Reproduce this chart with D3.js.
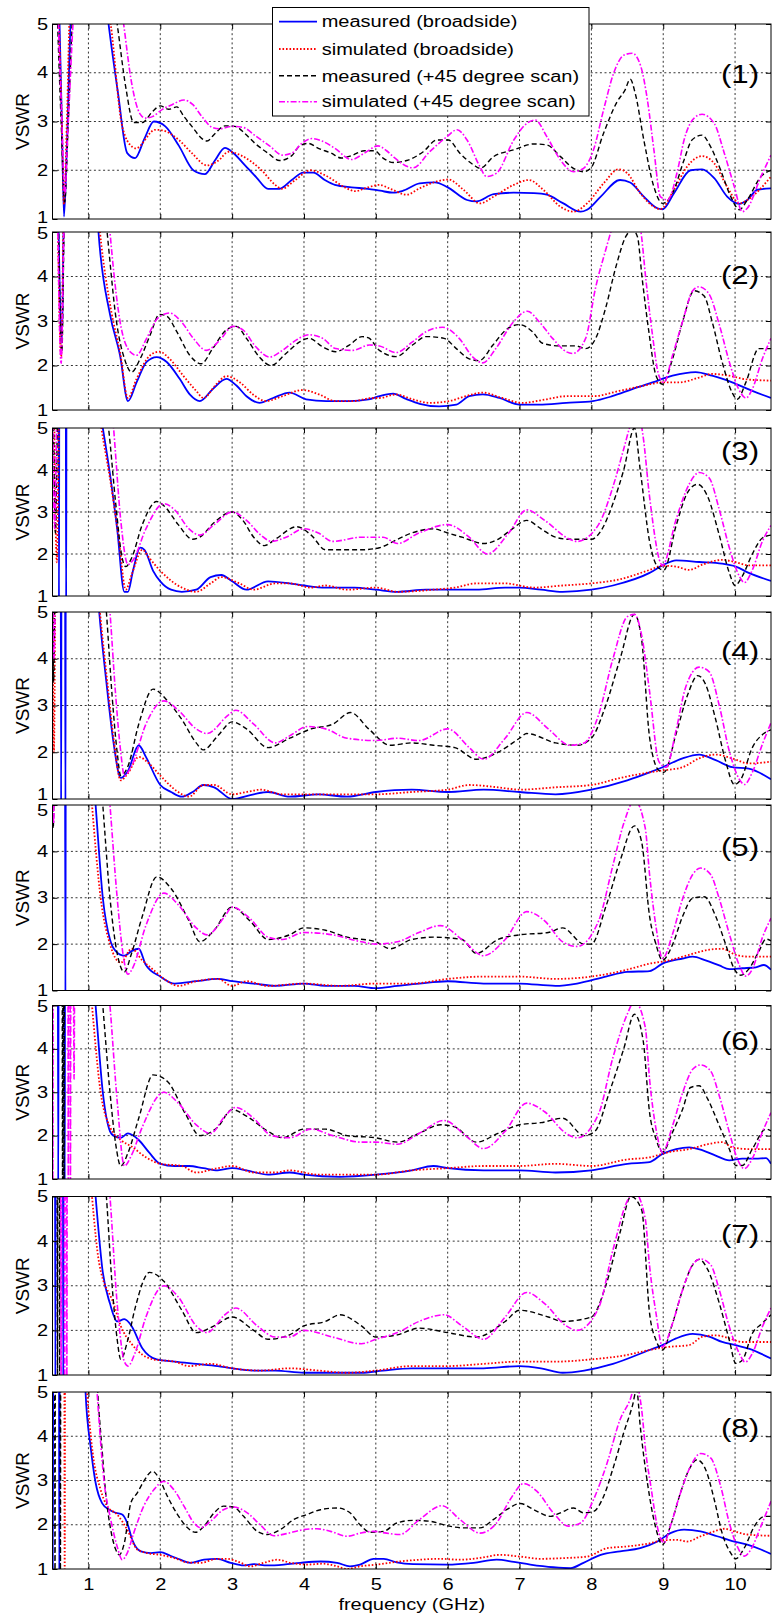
<!DOCTYPE html>
<html><head><meta charset="utf-8">
<script src="https://cdnjs.cloudflare.com/ajax/libs/d3/7.8.5/d3.min.js"></script>
<style>body{margin:0;background:#fff}svg{display:block}text{font-family:"Liberation Sans",Arial,sans-serif}</style>
</head><body><svg id="c" width="775" height="1621"></svg>
<script>
// ---------------- DATA ----------------
const seriesNames = ["measured (broadside)","simulated (broadside)","measured (+45 degree scan)","simulated (+45 degree scan)"];
const panelLabels = ["(1)","(2)","(3)","(4)","(5)","(6)","(7)","(8)"];
const xTicks = [1,2,3,4,5,6,7,8,9,10];
const yTicks = [1,2,3,4,5];
const xLabel = "frequency (GHz)";
const yLabel = "VSWR";

// panel 1
const p1MeasBroad = [[0.59,5.5],[0.63,3],[0.66,1.05],[0.70,2.5],[0.77,5.5],[1.2,6],[1.28,5],[1.41,3.6],[1.54,2.35],[1.65,2.25],[1.78,2.65],[1.91,3.0],[2.07,2.9],[2.26,2.5],[2.46,2.0],[2.62,1.92],[2.76,2.2],[2.9,2.46],[3.02,2.35],[3.18,2.1],[3.34,1.85],[3.5,1.62],[3.66,1.62],[3.83,1.8],[3.99,1.95],[4.13,1.95],[4.29,1.8],[4.43,1.7],[4.66,1.65],[4.89,1.62],[5.06,1.58],[5.24,1.54],[5.38,1.58],[5.61,1.73],[5.82,1.75],[5.99,1.66],[6.27,1.39],[6.40,1.36],[6.64,1.51],[6.92,1.54],[7.2,1.53],[7.38,1.5],[7.61,1.32],[7.85,1.15],[7.94,1.19],[8.13,1.46],[8.4,1.8],[8.54,1.75],[8.73,1.46],[8.92,1.22],[8.99,1.2],[9.15,1.53],[9.38,2.0],[9.54,2.02],[9.71,1.84],[9.89,1.46],[10.06,1.31],[10.17,1.39],[10.31,1.6],[10.5,1.63]];
const p1SimBroad = [[0.58,5.5],[0.63,3],[0.66,1.3],[0.70,3],[0.75,5.5],[1.2,6],[1.31,5],[1.47,2.9],[1.61,2.48],[1.66,2.45],[1.93,2.83],[2.02,2.82],[2.26,2.62],[2.44,2.35],[2.65,2.1],[2.81,2.2],[2.95,2.38],[3.13,2.3],[3.41,2.0],[3.6,1.7],[3.69,1.62],[3.88,1.8],[4.09,2.0],[4.29,1.9],[4.57,1.65],[4.71,1.57],[4.89,1.65],[5.05,1.7],[5.2,1.62],[5.43,1.5],[5.61,1.63],[5.85,1.77],[6.01,1.81],[6.22,1.6],[6.45,1.32],[6.64,1.46],[6.92,1.7],[7.13,1.8],[7.33,1.6],[7.57,1.25],[7.75,1.15],[7.94,1.32],[8.17,1.73],[8.38,2.02],[8.5,1.94],[8.68,1.53],[8.87,1.25],[8.96,1.2],[9.15,1.6],[9.33,2.07],[9.54,2.29],[9.71,2.14],[9.89,1.66],[10.06,1.32],[10.17,1.39],[10.5,1.87]];
const p1Meas45 = [[0.56,5.5],[0.62,3],[0.67,1.35],[0.72,3],[0.80,5.5],[1.3,6],[1.40,5],[1.52,3.7],[1.63,2.98],[1.75,2.98],[1.89,3.2],[2.0,3.32],[2.12,3.25],[2.23,3.3],[2.33,3.1],[2.44,2.9],[2.58,2.65],[2.65,2.6],[2.76,2.75],[2.9,2.91],[3.04,2.9],[3.18,2.75],[3.32,2.55],[3.5,2.35],[3.66,2.2],[3.83,2.3],[3.94,2.5],[4.06,2.55],[4.2,2.45],[4.38,2.35],[4.52,2.25],[4.66,2.3],[4.84,2.4],[4.98,2.4],[5.1,2.25],[5.24,2.16],[5.43,2.2],[5.66,2.38],[5.85,2.62],[6.01,2.62],[6.17,2.35],[6.36,2.11],[6.45,2.04],[6.64,2.28],[6.92,2.42],[7.2,2.54],[7.38,2.52],[7.57,2.28],[7.75,2.04],[7.89,1.97],[7.99,2.04],[8.17,2.76],[8.36,3.41],[8.47,3.65],[8.54,3.87],[8.61,3.58],[8.73,2.62],[8.87,1.66],[8.99,1.32],[9.13,1.53],[9.29,2.21],[9.4,2.62],[9.54,2.72],[9.66,2.48],[9.8,2.0],[9.94,1.46],[10.06,1.19],[10.17,1.39],[10.36,1.87],[10.5,2.0]];
const p1Sim45 = [[0.57,5.5],[0.63,3],[0.67,1.5],[0.72,3],[0.82,5.5],[1.4,6],[1.49,5],[1.6,3.8],[1.72,3.15],[1.79,3.07],[1.89,3.1],[2.03,3.25],[2.17,3.35],[2.33,3.44],[2.45,3.35],[2.58,3.1],[2.72,2.88],[2.82,2.85],[3.01,2.9],[3.15,2.88],[3.33,2.7],[3.52,2.5],[3.7,2.31],[3.83,2.35],[3.97,2.55],[4.11,2.65],[4.25,2.6],[4.43,2.45],[4.66,2.22],[4.84,2.35],[5.03,2.5],[5.15,2.4],[5.24,2.28],[5.52,2.05],[5.75,2.38],[5.99,2.69],[6.13,2.83],[6.27,2.62],[6.45,2.07],[6.54,1.87],[6.68,1.94],[6.92,2.62],[7.1,2.96],[7.22,3.03],[7.38,2.69],[7.57,2.21],[7.75,1.97],[7.89,2.04],[8.03,2.42],[8.17,3.24],[8.31,3.99],[8.45,4.36],[8.57,4.4],[8.69,4.12],[8.78,3.44],[8.87,2.42],[8.96,1.46],[9.06,1.39],[9.2,2.0],[9.29,2.62],[9.43,3.07],[9.54,3.15],[9.71,2.96],[9.85,2.35],[9.99,1.66],[10.1,1.15],[10.17,1.22],[10.36,1.87],[10.5,2.31]];

// panel 2
const p2MeasBroad = [[0.58,5.5],[0.63,2.5],[0.66,5.5],[1.1,6],[1.14,5],[1.30,3.15],[1.44,2.23],[1.55,1.2],[1.67,1.62],[1.81,2.08],[1.95,2.19],[2.09,2.08],[2.27,1.7],[2.41,1.35],[2.55,1.2],[2.73,1.47],[2.92,1.7],[3.06,1.55],[3.2,1.31],[3.38,1.16],[3.57,1.27],[3.8,1.39],[4.03,1.24],[4.31,1.2],[4.63,1.2],[4.9,1.24],[5.05,1.31],[5.24,1.37],[5.42,1.25],[5.61,1.14],[5.88,1.08],[6.12,1.12],[6.3,1.31],[6.49,1.35],[6.72,1.27],[7.0,1.12],[7.27,1.12],[7.65,1.16],[8.02,1.2],[8.29,1.31],[8.57,1.47],[8.85,1.62],[9.13,1.77],[9.45,1.85],[9.68,1.77],[9.96,1.62],[10.24,1.43],[10.5,1.27]];
const p2SimBroad = [[0.57,5.5],[0.62,2.2],[0.66,5.5],[1.1,6],[1.16,5],[1.32,3.2],[1.44,2.3],[1.55,1.27],[1.67,1.7],[1.86,2.23],[1.99,2.31],[2.13,2.15],[2.32,1.77],[2.5,1.43],[2.6,1.27],[2.78,1.58],[2.92,1.76],[3.11,1.62],[3.29,1.35],[3.47,1.2],[3.7,1.31],[3.98,1.45],[4.21,1.35],[4.44,1.2],[4.68,1.2],[4.95,1.27],[5.05,1.27],[5.28,1.35],[5.51,1.24],[5.75,1.16],[6.02,1.2],[6.25,1.31],[6.49,1.39],[6.76,1.27],[7.04,1.16],[7.37,1.24],[7.65,1.31],[8.02,1.31],[8.39,1.43],[8.71,1.54],[8.99,1.62],[9.22,1.62],[9.5,1.73],[9.68,1.81],[9.92,1.77],[10.15,1.69],[10.5,1.66]];
const p2Meas45 = [[0.58,5.5],[0.63,2.3],[0.67,5.5],[1.2,6],[1.26,5],[1.39,2.99],[1.51,2.11],[1.6,1.85],[1.72,2.15],[1.86,2.69],[1.99,3.15],[2.09,3.11],[2.23,2.76],[2.41,2.23],[2.57,2.04],[2.73,2.38],[2.92,2.8],[3.06,2.88],[3.2,2.61],[3.38,2.19],[3.54,2.0],[3.75,2.27],[3.94,2.53],[4.07,2.61],[4.26,2.42],[4.44,2.31],[4.63,2.46],[4.81,2.65],[4.9,2.62],[5.05,2.34],[5.28,2.2],[5.51,2.46],[5.7,2.65],[5.95,2.61],[6.12,2.38],[6.3,2.15],[6.44,2.11],[6.63,2.46],[6.81,2.8],[7.0,2.92],[7.18,2.76],[7.32,2.5],[7.55,2.44],[7.78,2.44],[7.92,2.38],[8.06,2.61],[8.2,3.3],[8.34,4.21],[8.48,4.9],[8.57,5.05],[8.64,4.9],[8.71,3.91],[8.8,2.76],[8.9,1.77],[8.99,1.58],[9.13,2.15],[9.27,2.99],[9.43,3.68],[9.57,3.56],[9.68,2.99],[9.82,2.08],[9.96,1.39],[10.03,1.24],[10.15,1.62],[10.33,2.38],[10.5,2.38]];
const p2Sim45 = [[0.57,5.5],[0.62,2.05],[0.67,5.5],[1.25,6],[1.3,5],[1.44,2.99],[1.58,2.31],[1.67,2.23],[1.81,2.61],[1.97,3.07],[2.13,3.18],[2.29,2.99],[2.46,2.61],[2.64,2.34],[2.83,2.57],[3.01,2.88],[3.15,2.8],[3.33,2.42],[3.52,2.19],[3.7,2.34],[3.89,2.57],[4.07,2.69],[4.26,2.61],[4.44,2.38],[4.68,2.34],[4.91,2.46],[5.05,2.44],[5.28,2.29],[5.51,2.53],[5.7,2.76],[5.93,2.86],[6.16,2.61],[6.35,2.19],[6.49,2.06],[6.67,2.38],[6.9,2.95],[7.11,3.22],[7.27,2.99],[7.46,2.61],[7.65,2.31],[7.74,2.27],[7.92,2.61],[8.06,3.76],[8.2,4.6],[8.29,5.1],[8.5,5.8],[8.68,5.1],[8.76,3.91],[8.85,2.69],[8.94,1.77],[9.01,1.62],[9.13,2.23],[9.27,2.99],[9.41,3.68],[9.5,3.77],[9.64,3.6],[9.78,2.92],[9.92,2.08],[10.05,1.47],[10.15,1.27],[10.24,1.47],[10.38,2.15],[10.5,2.61]];

// panel 3
const p3MeasBroad = [[0.585,6],[0.59,0.8],[0.595,6],[0.685,6],[0.69,0.8],[0.695,6],[1.1,6],[1.2,5],[1.3,3.9],[1.4,2.6],[1.5,1.1],[1.55,1.1],[1.62,1.6],[1.72,2.15],[1.78,2.1],[1.9,1.6],[2.0,1.35],[2.15,1.15],[2.3,1.1],[2.5,1.15],[2.7,1.45],[2.85,1.5],[3.0,1.35],[3.2,1.15],[3.5,1.35],[3.8,1.3],[4.0,1.25],[4.3,1.2],[4.7,1.2],[5.0,1.15],[5.3,1.1],[5.7,1.15],[6.0,1.15],[6.4,1.15],[6.8,1.2],[7.0,1.2],[7.3,1.15],[7.6,1.1],[8.0,1.15],[8.3,1.25],[8.81,1.55],[8.99,1.73],[9.18,1.85],[9.5,1.81],[9.82,1.77],[10.01,1.7],[10.19,1.55],[10.5,1.36]];
const p3SimBroad = [[0.52,6],[0.56,1.8],[0.6,6],[1.1,6],[1.18,5],[1.3,3.8],[1.42,2.4],[1.52,1.15],[1.6,1.5],[1.75,2.1],[1.85,1.9],[2.0,1.6],[2.3,1.2],[2.5,1.1],[2.7,1.3],[2.85,1.45],[3.1,1.3],[3.3,1.15],[3.6,1.3],[3.8,1.3],[4.1,1.2],[4.3,1.25],[4.6,1.15],[5.0,1.2],[5.3,1.1],[5.8,1.15],[6.1,1.2],[6.4,1.3],[6.8,1.3],[7.2,1.2],[7.6,1.25],[8.0,1.3],[8.4,1.4],[8.81,1.62],[8.99,1.72],[9.18,1.7],[9.36,1.62],[9.55,1.75],[9.82,1.86],[10.0,1.81],[10.19,1.73],[10.5,1.73]];
const p3Meas45 = [[0.51,6],[0.54,2.5],[0.58,6],[1.2,6],[1.28,5],[1.38,3.2],[1.47,1.9],[1.52,1.7],[1.6,1.9],[1.75,2.7],[1.95,3.25],[2.05,3.15],[2.25,2.7],[2.45,2.35],[2.55,2.4],[2.75,2.75],[3.0,3.0],[3.15,2.8],[3.3,2.4],[3.45,2.2],[3.6,2.35],[3.9,2.65],[4.1,2.45],[4.3,2.1],[4.55,2.1],[4.8,2.1],[5.05,2.15],[5.3,2.35],[5.5,2.5],[5.8,2.6],[6.0,2.5],[6.2,2.4],[6.5,2.25],[6.7,2.35],[6.9,2.6],[7.1,2.8],[7.3,2.6],[7.5,2.4],[7.7,2.35],[8.0,2.35],[8.15,2.6],[8.3,3.2],[8.45,4.0],[8.6,5.0],[8.68,4.0],[8.81,2.3],[8.94,1.66],[9.01,1.62],[9.18,2.68],[9.34,3.47],[9.48,3.66],[9.62,3.36],[9.78,2.45],[9.92,1.55],[10.0,1.25],[10.1,1.47],[10.24,2.0],[10.38,2.38],[10.5,2.45]];
const p3Sim45 = [[0.5,6],[0.53,2.6],[0.57,6],[1.3,6],[1.35,5],[1.45,2.8],[1.55,1.75],[1.62,1.85],[1.8,2.6],[2.05,3.2],[2.2,3.05],[2.4,2.6],[2.55,2.45],[2.75,2.7],[3.0,3.0],[3.2,2.8],[3.4,2.45],[3.55,2.3],[3.75,2.4],[4.0,2.6],[4.2,2.5],[4.4,2.3],[4.8,2.4],[5.1,2.4],[5.3,2.25],[5.6,2.5],[6.0,2.7],[6.3,2.4],[6.55,2.0],[6.85,2.5],[7.1,3.05],[7.35,2.8],[7.7,2.35],[7.8,2.3],[8.1,2.7],[8.3,3.6],[8.45,4.5],[8.55,5.1],[8.65,5.4],[8.72,4.8],[8.81,3.36],[8.99,1.73],[9.18,2.83],[9.36,3.66],[9.5,3.94],[9.64,3.81],[9.78,3.06],[9.92,2.15],[10.06,1.47],[10.13,1.32],[10.24,1.62],[10.38,2.3],[10.5,2.68]];

// panel 4
const p4MeasBroad = [[0.615,6],[0.62,0.8],[0.625,6],[0.675,6],[0.68,0.8],[0.685,6],[1.1,6],[1.15,5],[1.25,3.5],[1.35,2.2],[1.45,1.45],[1.55,1.6],[1.7,2.15],[1.8,1.9],[2.0,1.3],[2.15,1.15],[2.3,1.05],[2.45,1.15],[2.6,1.3],[2.75,1.25],[3.0,1.0],[3.3,1.1],[3.5,1.15],[3.8,1.05],[4.2,1.1],[4.6,1.05],[5.0,1.15],[5.5,1.2],[6.0,1.15],[6.5,1.2],[7.0,1.15],[7.5,1.1],[8.0,1.2],[8.5,1.4],[8.81,1.57],[8.99,1.68],[9.27,1.87],[9.5,1.95],[9.73,1.83],[9.96,1.68],[10.19,1.65],[10.5,1.42]];
const p4SimBroad = [[0.5,6],[0.52,2.0],[0.545,6],[1.1,6],[1.16,5],[1.27,3.4],[1.35,2.3],[1.45,1.4],[1.55,1.55],[1.7,1.9],[1.85,1.75],[2.0,1.5],[2.25,1.15],[2.4,1.05],[2.6,1.3],[2.75,1.3],[3.0,1.1],[3.2,1.15],[3.4,1.2],[3.7,1.1],[4.0,1.1],[4.5,1.1],[5.0,1.1],[5.5,1.15],[6.0,1.2],[6.3,1.3],[6.7,1.25],[7.0,1.2],[7.5,1.25],[8.0,1.3],[8.4,1.45],[8.81,1.57],[8.99,1.61],[9.27,1.68],[9.5,1.87],[9.73,1.95],[9.96,1.87],[10.19,1.76],[10.5,1.8]];
const p4Meas45 = [[0.5,6],[0.515,3.5],[0.54,6],[1.2,6],[1.25,5],[1.33,3.2],[1.4,2.0],[1.45,1.5],[1.55,1.7],[1.7,2.6],[1.9,3.35],[2.1,3.1],[2.3,2.7],[2.5,2.2],[2.6,2.05],[2.8,2.35],[3.0,2.65],[3.2,2.5],[3.5,2.1],[3.8,2.3],[4.1,2.5],[4.4,2.6],[4.65,2.85],[4.9,2.5],[5.2,2.15],[5.5,2.2],[5.8,2.15],[6.1,2.1],[6.4,1.85],[6.7,2.0],[7.0,2.3],[7.1,2.4],[7.5,2.2],[7.8,2.15],[8.0,2.3],[8.2,3.0],[8.4,4.0],[8.6,4.95],[8.7,4.4],[8.81,2.32],[8.94,1.61],[9.01,1.57],[9.18,2.4],[9.34,3.23],[9.48,3.64],[9.59,3.45],[9.73,2.7],[9.87,1.8],[9.99,1.31],[10.08,1.42],[10.24,2.1],[10.4,2.4],[10.5,2.48]];
const p4Sim45 = [[0.5,6],[0.52,4.0],[0.55,6],[1.25,6],[1.3,5],[1.38,3.2],[1.45,2.0],[1.5,1.5],[1.6,1.7],[1.8,2.6],[2.05,3.1],[2.25,2.9],[2.5,2.5],[2.65,2.4],[2.95,2.8],[3.05,2.9],[3.3,2.6],[3.6,2.2],[3.8,2.35],[4.05,2.55],[4.3,2.5],[4.6,2.3],[5.0,2.25],[5.3,2.3],[5.6,2.25],[6.0,2.5],[6.3,2.1],[6.5,1.85],[6.8,2.3],[7.1,2.85],[7.4,2.5],[7.7,2.15],[7.9,2.2],[8.1,2.8],[8.3,4.0],[8.5,4.9],[8.6,4.95],[8.7,4.5],[8.81,3.3],[8.94,1.8],[9.04,1.68],[9.18,2.48],[9.31,3.38],[9.5,3.82],[9.64,3.72],[9.78,3.0],[9.92,2.02],[10.06,1.42],[10.13,1.31],[10.24,1.57],[10.38,2.17],[10.5,2.63]];

// panel 5
const p5MeasBroad = [[0.675,6],[0.68,0.8],[0.685,6],[1.05,6],[1.1,5],[1.2,3.0],[1.3,2.1],[1.38,1.85],[1.5,1.75],[1.6,1.85],[1.7,1.9],[1.8,1.55],[2.0,1.3],[2.2,1.15],[2.5,1.2],[2.8,1.25],[3.0,1.2],[3.3,1.15],[3.6,1.1],[4.0,1.15],[4.3,1.1],[4.7,1.1],[5.0,1.05],[5.3,1.1],[5.6,1.15],[6.0,1.2],[6.5,1.15],[7.0,1.15],[7.5,1.1],[7.8,1.15],[8.2,1.3],[8.5,1.4],[8.81,1.42],[8.99,1.58],[9.27,1.69],[9.41,1.73],[9.59,1.65],[9.78,1.54],[9.92,1.46],[10.1,1.48],[10.29,1.5],[10.4,1.55],[10.5,1.45]];
const p5SimBroad = [[1.0,6],[1.05,5],[1.17,3.0],[1.3,2.0],[1.45,1.6],[1.6,1.9],[1.75,1.65],[1.9,1.45],[2.1,1.2],[2.25,1.1],[2.5,1.2],[2.8,1.25],[3.0,1.1],[3.2,1.2],[3.5,1.1],[4.0,1.15],[4.5,1.1],[5.0,1.15],[5.5,1.15],[6.0,1.25],[6.5,1.3],[7.0,1.3],[7.5,1.25],[8.0,1.3],[8.5,1.45],[8.81,1.58],[9.08,1.65],[9.36,1.77],[9.64,1.88],[9.82,1.9],[10.01,1.77],[10.19,1.73],[10.5,1.73]];
const p5Meas45 = [[0.5,6],[0.51,4.5],[0.53,6],[1.15,6],[1.2,5],[1.3,3.0],[1.4,1.8],[1.5,1.4],[1.6,1.8],[1.75,2.6],[1.95,3.45],[2.15,3.2],[2.4,2.5],[2.55,2.05],[2.75,2.3],[3.0,2.8],[3.25,2.5],[3.5,2.1],[3.8,2.2],[4.0,2.35],[4.3,2.3],[4.6,2.15],[5.0,2.05],[5.2,1.9],[5.5,2.1],[5.8,2.15],[6.2,2.1],[6.4,1.8],[6.7,2.1],[7.0,2.2],[7.4,2.25],[7.6,2.35],[7.9,2.0],[8.0,2.0],[8.2,2.8],[8.4,3.8],[8.6,4.55],[8.7,4.2],[8.81,2.6],[8.9,1.99],[8.99,1.65],[9.13,1.99],[9.27,2.6],[9.41,2.99],[9.57,3.02],[9.73,2.6],[9.87,1.99],[9.99,1.46],[10.08,1.33],[10.19,1.46],[10.33,1.84],[10.43,2.11],[10.5,2.07]];
const p5Sim45 = [[0.505,6],[0.515,4.6],[0.535,6],[1.25,6],[1.3,5],[1.4,3.0],[1.48,1.8],[1.55,1.35],[1.62,1.5],[1.8,2.4],[2.05,3.1],[2.25,2.85],[2.5,2.35],[2.65,2.2],[2.9,2.6],[3.0,2.8],[3.25,2.55],[3.5,2.15],[3.7,2.1],[4.0,2.25],[4.4,2.2],[4.8,2.05],[5.0,2.0],[5.3,2.05],[5.6,2.25],[5.9,2.4],[6.2,2.1],[6.5,1.75],[6.8,2.1],[7.1,2.7],[7.35,2.5],[7.6,2.05],[7.8,1.95],[8.1,2.5],[8.3,3.7],[8.45,4.6],[8.6,5.1],[8.75,4.5],[8.81,3.5],[8.9,2.37],[8.99,1.69],[9.13,2.22],[9.27,2.98],[9.41,3.5],[9.52,3.64],[9.66,3.5],[9.78,2.98],[9.92,2.22],[10.06,1.54],[10.15,1.31],[10.24,1.46],[10.38,2.14],[10.5,2.56]];

// panel 6
const p6MeasBroad = [[0.575,6],[0.58,0.8],[0.585,6],[0.665,6],[0.67,0.8],[0.675,6],[1.05,6],[1.1,5],[1.2,3.0],[1.3,2.1],[1.35,2.0],[1.45,1.95],[1.55,2.05],[1.7,1.9],[1.85,1.6],[2.0,1.35],[2.2,1.3],[2.4,1.3],[2.6,1.25],[2.8,1.2],[3.0,1.25],[3.2,1.2],[3.5,1.1],[3.8,1.15],[4.0,1.1],[4.5,1.05],[5.0,1.1],[5.5,1.2],[5.8,1.3],[6.0,1.25],[6.5,1.2],[7.0,1.2],[7.5,1.15],[8.0,1.2],[8.5,1.35],[8.81,1.39],[8.99,1.58],[9.18,1.69],[9.36,1.73],[9.55,1.66],[9.73,1.54],[9.92,1.43],[10.1,1.47],[10.29,1.47],[10.43,1.48],[10.5,1.35]];
const p6SimBroad = [[1.0,6],[1.05,5],[1.17,3.0],[1.3,2.2],[1.45,1.9],[1.6,1.75],[1.8,1.5],[2.0,1.35],[2.3,1.3],[2.5,1.15],[2.8,1.25],[3.0,1.3],[3.3,1.15],[3.6,1.15],[3.8,1.2],[4.2,1.1],[4.6,1.1],[5.0,1.1],[5.5,1.2],[6.0,1.25],[6.5,1.3],[7.0,1.3],[7.5,1.35],[8.0,1.3],[8.5,1.45],[8.81,1.5],[9.08,1.62],[9.36,1.69],[9.64,1.81],[9.82,1.85],[9.96,1.73],[10.19,1.69],[10.5,1.69]];
const p6Meas45 = [[0.635,6],[0.64,0.8],[0.645,6],[0.655,6],[0.66,0.8],[0.665,6],[1.15,6],[1.2,5],[1.3,3.0],[1.38,1.8],[1.45,1.3],[1.55,1.6],[1.7,2.4],[1.9,3.4],[2.1,3.25],[2.35,2.5],[2.55,2.0],[2.8,2.2],[3.0,2.6],[3.2,2.45],[3.5,2.1],[3.7,1.95],[4.0,2.15],[4.3,2.15],[4.6,2.0],[5.0,1.95],[5.3,1.85],[5.6,2.05],[5.9,2.25],[6.1,2.2],[6.4,1.85],[6.7,2.05],[7.0,2.25],[7.3,2.3],[7.6,2.4],[7.9,2.0],[8.05,2.1],[8.25,3.0],[8.45,4.0],[8.6,4.8],[8.72,4.2],[8.81,2.53],[8.9,1.92],[8.99,1.62],[9.13,2.08],[9.27,2.61],[9.38,3.11],[9.5,3.15],[9.62,2.84],[9.78,2.23],[9.92,1.69],[10.01,1.31],[10.1,1.31],[10.24,1.69],[10.43,2.15],[10.5,2.11]];
const p6Sim45 = [[0.5,6],[0.505,0.8],[0.51,6],[0.715,6],[0.72,0.8],[0.725,6],[0.745,6],[0.75,0.8],[0.755,6],[0.79,6],[0.8,3.3],[0.81,6],[1.25,6],[1.3,5],[1.4,2.8],[1.5,1.3],[1.6,1.55],[1.75,2.2],[2.05,3.0],[2.25,2.75],[2.5,2.25],[2.7,2.05],[2.9,2.45],[3.05,2.65],[3.3,2.4],[3.55,2.0],[3.8,1.95],[4.1,2.15],[4.4,2.0],[4.8,1.85],[5.0,1.85],[5.3,1.8],[5.6,2.05],[5.95,2.35],[6.25,2.0],[6.5,1.7],[6.8,2.1],[7.1,2.75],[7.35,2.55],[7.65,2.05],[7.8,1.95],[8.1,2.5],[8.3,3.8],[8.5,4.8],[8.6,5.1],[8.75,4.5],[8.81,3.3],[8.9,2.15],[8.99,1.62],[9.13,2.23],[9.27,2.99],[9.41,3.53],[9.52,3.63],[9.66,3.49],[9.78,2.92],[9.92,2.08],[10.03,1.47],[10.13,1.24],[10.24,1.47],[10.38,2.08],[10.5,2.53]];

// panel 7
const p7MeasBroad = [[0.535,6],[0.54,0.8],[0.545,6],[0.645,6],[0.65,0.8],[0.655,6],[1.05,6],[1.1,5],[1.2,3.3],[1.3,2.6],[1.4,2.2],[1.5,2.25],[1.6,2.1],[1.75,1.6],[1.95,1.35],[2.2,1.3],[2.5,1.25],[2.8,1.2],[3.0,1.15],[3.3,1.1],[3.6,1.1],[4.0,1.05],[4.5,1.05],[4.8,1.05],[5.1,1.1],[5.5,1.15],[6.0,1.15],[6.5,1.15],[7.0,1.2],[7.3,1.15],[7.6,1.05],[7.9,1.1],[8.3,1.25],[8.81,1.56],[8.99,1.67],[9.18,1.82],[9.41,1.92],[9.64,1.86],[9.82,1.74],[10.01,1.67],[10.19,1.59],[10.5,1.37]];
const p7SimBroad = [[1.0,6],[1.05,5],[1.15,3.5],[1.35,2.6],[1.45,2.1],[1.6,1.7],[1.9,1.35],[2.2,1.3],[2.4,1.2],[2.7,1.25],[3.0,1.15],[3.4,1.1],[3.8,1.15],[4.2,1.1],[4.6,1.05],[5.0,1.1],[5.5,1.2],[6.0,1.2],[6.5,1.25],[7.0,1.3],[7.5,1.3],[8.0,1.35],[8.5,1.45],[8.81,1.56],[9.08,1.63],[9.36,1.67],[9.55,1.86],[9.73,1.89],[9.92,1.82],[10.1,1.74],[10.5,1.74]];
const p7Meas45 = [[0.565,6],[0.57,0.8],[0.575,6],[0.595,6],[0.6,0.8],[0.605,6],[1.2,6],[1.25,5],[1.33,3.0],[1.4,1.8],[1.45,1.35],[1.55,1.8],[1.65,2.5],[1.85,3.3],[2.05,3.1],[2.3,2.45],[2.5,1.95],[2.75,2.1],[3.0,2.3],[3.3,2.0],[3.5,1.8],[3.8,1.9],[4.0,2.1],[4.3,2.2],[4.5,2.35],[4.8,2.1],[5.0,1.85],[5.3,1.9],[5.6,2.05],[6.0,1.95],[6.4,1.85],[6.8,2.2],[7.0,2.45],[7.4,2.3],[7.6,2.2],[8.0,2.3],[8.2,3.0],[8.4,4.2],[8.55,5.0],[8.7,4.7],[8.81,2.38],[8.9,1.78],[8.99,1.56],[9.13,2.16],[9.27,2.91],[9.41,3.47],[9.5,3.59],[9.62,3.36],[9.78,2.61],[9.92,1.78],[10.01,1.26],[10.1,1.33],[10.24,1.93],[10.38,2.16],[10.5,2.35]];
const p7Sim45 = [[0.615,6],[0.62,0.8],[0.625,6],[0.665,6],[0.67,0.8],[0.675,6],[0.695,6],[0.7,0.8],[0.705,6],[1.25,6],[1.3,5],[1.4,2.6],[1.5,1.3],[1.55,1.2],[1.65,1.5],[1.8,2.3],[2.05,3.0],[2.25,2.75],[2.5,2.1],[2.65,1.95],[2.9,2.35],[3.05,2.5],[3.35,2.1],[3.6,1.85],[3.8,1.85],[4.0,2.0],[4.4,1.85],[4.8,1.7],[5.0,1.8],[5.3,1.95],[5.6,2.2],[5.95,2.35],[6.2,2.1],[6.5,1.8],[6.8,2.3],[7.1,2.85],[7.35,2.6],[7.65,2.1],[7.8,2.0],[8.1,2.5],[8.3,3.8],[8.5,4.9],[8.6,5.1],[8.75,4.5],[8.81,3.44],[8.9,2.38],[8.99,1.63],[9.13,2.16],[9.27,2.91],[9.41,3.47],[9.52,3.6],[9.66,3.47],[9.78,2.91],[9.92,2.08],[10.06,1.48],[10.14,1.29],[10.24,1.48],[10.38,2.08],[10.5,2.5]];

// panel 8
const p8MeasBroad = [[0.5,6],[0.505,0.8],[0.51,6],[0.59,6],[0.595,0.8],[0.6,6],[0.94,6],[0.96,5],[1.03,3.77],[1.1,2.95],[1.19,2.49],[1.29,2.34],[1.38,2.27],[1.47,2.23],[1.54,2.04],[1.61,1.66],[1.73,1.4],[1.87,1.36],[2.0,1.38],[2.14,1.3],[2.28,1.21],[2.42,1.14],[2.61,1.21],[2.79,1.23],[2.98,1.14],[3.16,1.08],[3.3,1.11],[3.49,1.08],[3.72,1.1],[3.95,1.14],[4.23,1.17],[4.46,1.14],[4.64,1.06],[4.78,1.1],[4.97,1.23],[5.11,1.23],[5.29,1.15],[5.52,1.11],[5.99,1.1],[6.36,1.14],[6.68,1.21],[6.92,1.16],[7.15,1.1],[7.47,1.04],[7.71,1.02],[7.89,1.14],[8.13,1.32],[8.4,1.4],[8.68,1.47],[8.92,1.62],[9.1,1.81],[9.29,1.89],[9.52,1.85],[9.75,1.74],[9.99,1.62],[10.17,1.55],[10.36,1.44],[10.5,1.34]];
const p8SimBroad = [[0.665,6],[0.67,0.8],[0.675,6],[0.94,6],[0.98,5],[1.06,3.62],[1.17,2.79],[1.26,2.42],[1.4,2.23],[1.54,1.89],[1.68,1.44],[1.82,1.36],[2.0,1.32],[2.19,1.25],[2.38,1.15],[2.56,1.14],[2.79,1.23],[2.93,1.23],[3.12,1.14],[3.25,1.06],[3.44,1.14],[3.63,1.21],[3.81,1.14],[4.04,1.1],[4.27,1.12],[4.46,1.06],[4.6,1.0],[4.78,1.06],[5.01,1.1],[5.33,1.17],[5.61,1.21],[5.89,1.23],[6.17,1.21],[6.45,1.25],[6.73,1.32],[7.01,1.28],[7.29,1.23],[7.66,1.25],[7.94,1.28],[8.22,1.47],[8.5,1.51],[8.78,1.57],[9.01,1.65],[9.2,1.66],[9.33,1.62],[9.52,1.74],[9.71,1.85],[9.85,1.91],[9.99,1.85],[10.17,1.78],[10.5,1.75]];
const p8Meas45 = [[0.53,6],[0.535,0.8],[0.54,6],[0.605,6],[0.61,0.8],[0.615,6],[1.1,6],[1.13,5],[1.19,3.7],[1.24,2.72],[1.31,1.89],[1.38,1.44],[1.43,1.32],[1.5,1.59],[1.59,2.49],[1.68,2.72],[1.77,2.98],[1.89,3.21],[1.98,3.06],[2.1,2.64],[2.24,2.23],[2.38,1.93],[2.49,1.83],[2.61,1.97],[2.75,2.27],[2.88,2.42],[3.02,2.4],[3.16,2.19],[3.35,1.85],[3.49,1.78],[3.67,1.89],[3.86,2.12],[4.04,2.23],[4.23,2.34],[4.46,2.38],[4.64,2.27],[4.78,2.0],[4.92,1.83],[5.11,1.85],[5.29,2.04],[5.52,2.1],[5.75,2.08],[5.99,1.98],[6.22,1.93],[6.45,1.93],[6.64,2.12],[6.82,2.34],[7.01,2.48],[7.2,2.34],[7.43,2.19],[7.57,2.27],[7.75,2.38],[7.89,2.27],[8.03,2.3],[8.17,2.64],[8.31,3.32],[8.45,4.08],[8.57,4.68],[8.63,5.05],[8.68,4.23],[8.78,2.95],[8.89,1.97],[8.99,1.55],[9.1,1.97],[9.24,2.72],[9.36,3.25],[9.47,3.47],[9.59,3.25],[9.71,2.57],[9.82,1.81],[9.94,1.36],[10.01,1.23],[10.13,1.48],[10.27,1.97],[10.41,2.19],[10.5,2.19]];
const p8Sim45 = [[1.08,6],[1.12,5],[1.22,2.95],[1.31,2.12],[1.4,1.51],[1.47,1.21],[1.54,1.36],[1.63,1.81],[1.77,2.42],[1.91,2.79],[2.05,2.98],[2.19,2.79],[2.33,2.42],[2.47,2.04],[2.56,1.93],[2.7,2.08],[2.88,2.34],[3.02,2.4],[3.21,2.27],[3.39,2.0],[3.58,1.75],[3.76,1.8],[4.0,1.89],[4.18,1.91],[4.37,1.85],[4.6,1.74],[4.78,1.81],[4.97,1.85],[5.15,1.81],[5.33,1.78],[5.61,2.12],[5.92,2.43],[6.17,2.12],[6.45,1.81],[6.68,2.04],[6.87,2.57],[7.06,2.93],[7.24,2.76],[7.47,2.27],[7.68,1.97],[7.85,2.04],[8.03,2.57],[8.22,3.4],[8.4,4.38],[8.54,4.83],[8.62,5.2],[8.7,4.6],[8.76,3.6],[8.82,2.95],[8.94,1.81],[9.01,1.59],[9.1,1.97],[9.24,2.72],[9.38,3.32],[9.52,3.61],[9.66,3.51],[9.8,2.87],[9.92,2.04],[10.03,1.51],[10.13,1.29],[10.22,1.44],[10.36,1.97],[10.5,2.53]];

const panelData = [
  [p1MeasBroad,p1SimBroad,p1Meas45,p1Sim45],
  [p2MeasBroad,p2SimBroad,p2Meas45,p2Sim45],
  [p3MeasBroad,p3SimBroad,p3Meas45,p3Sim45],
  [p4MeasBroad,p4SimBroad,p4Meas45,p4Sim45],
  [p5MeasBroad,p5SimBroad,p5Meas45,p5Sim45],
  [p6MeasBroad,p6SimBroad,p6Meas45,p6Sim45],
  [p7MeasBroad,p7SimBroad,p7Meas45,p7Sim45],
  [p8MeasBroad,p8SimBroad,p8Meas45,p8Sim45]
];

// ---------------- LAYOUT / STYLE ----------------
const W = 775, H = 1621;
const plotLeft = 52.5, plotRight = 771;
const panelTop = [24, 232, 428, 612, 805, 1005.5, 1196.5, 1392];
const panelBottom = [219, 410, 596, 799, 990.5, 1179, 1375, 1569];
const labelBaseline = [83, 284, 460, 660, 856, 1050, 1243, 1437];
const stretch = 1.25;
const styles = [
  {color:"#0000ff", dash:null, width:1.8},
  {color:"#ff0000", dash:"1.6,1.9", width:1.8},
  {color:"#000000", dash:"5,3", width:1.4},
  {color:"#ff00ff", dash:"6,2,1.6,2", width:1.6}
];

const svg = d3.select("#c");
svg.append("rect").attr("width",W).attr("height",H).attr("fill","#fff");

const x = d3.scaleLinear().domain([0.5,10.5]).range([plotLeft, plotRight]);

panelData.forEach((series, i) => {
  const top = panelTop[i], bot = panelBottom[i];
  const y = d3.scaleLinear().domain([1,5]).range([bot, top]);
  const g = svg.append("g");
  g.append("rect").attr("x",plotLeft).attr("y",top).attr("width",plotRight-plotLeft).attr("height",bot-top).attr("fill","#fff");

  // grid
  g.append("g").selectAll("line").data(xTicks).join("line")
    .attr("x1",d=>x(d)).attr("x2",d=>x(d)).attr("y1",top).attr("y2",bot)
    .attr("stroke","#000").attr("stroke-width",0.8).attr("stroke-dasharray","2,2.6");
  g.append("g").selectAll("line").data(yTicks.filter(t=>t>1&&t<5)).join("line")
    .attr("x1",plotLeft).attr("x2",plotRight).attr("y1",d=>y(d)).attr("y2",d=>y(d))
    .attr("stroke","#000").attr("stroke-width",0.8).attr("stroke-dasharray","2,2.6");

  // clip
  const cid = "clip"+i;
  g.append("clipPath").attr("id",cid).append("rect")
    .attr("x",plotLeft).attr("y",top).attr("width",plotRight-plotLeft).attr("height",bot-top);
  const line = d3.line().x(d=>x(d[0])).y(d=>y(d[1])).curve(d3.curveMonotoneX);
  const lg = g.append("g").attr("clip-path",`url(#${cid})`);
  series.forEach((s, k) => {
    lg.append("path").attr("d", line(s)).attr("fill","none")
      .attr("stroke",styles[k].color).attr("stroke-width",styles[k].width)
      .attr("stroke-dasharray",styles[k].dash).attr("stroke-linejoin","round");
  });

  // axes (inward ticks)
  const gapBelow = i < 7 ? panelTop[i+1] - bot : 99;
  const gapAbove = i > 0 ? top - panelBottom[i-1] : 99;
  const shiftBottom = gapBelow < 16 ? -(16 - gapBelow)/2 : 0;
  const shiftTop = gapAbove < 16 ? (16 - gapAbove)/2 : 0;
  const ax = g.append("g").attr("font-family",'"Liberation Sans",Arial,sans-serif');
  const left = ax.append("g").attr("transform",`translate(${plotLeft},0)`)
    .call(d3.axisLeft(y).tickValues(yTicks).tickFormat(d3.format("d")).tickSize(-5).tickPadding(3.6));
  left.selectAll("text").attr("font-size",16).attr("fill","#000")
    .attr("transform",d=>`translate(0,${d===1?shiftBottom:(d===5?shiftTop:0)}) scale(${stretch},1)`);
  ax.append("g").attr("transform",`translate(${plotRight},0)`)
    .call(d3.axisRight(y).tickValues(yTicks).tickFormat("").tickSize(-5));
  ax.append("g").attr("transform",`translate(0,${top})`)
    .call(d3.axisTop(x).tickValues(xTicks).tickFormat("").tickSize(-5));
  const bottom = ax.append("g").attr("transform",`translate(0,${bot})`)
    .call(d3.axisBottom(x).tickValues(xTicks).tickFormat(i===7? d3.format("d") : "").tickSize(-5).tickPadding(9.6));
  bottom.selectAll("text").attr("font-size",16).attr("fill","#000").attr("transform",`scale(${stretch},1)`);
  ax.selectAll(".domain").remove();
  ax.selectAll(".tick line").attr("stroke","#000");

  // frame
  g.append("rect").attr("x",plotLeft).attr("y",top).attr("width",plotRight-plotLeft).attr("height",bot-top)
    .attr("fill","none").attr("stroke","#000").attr("stroke-width",1);

  // y label
  g.append("text").attr("transform",`translate(28.5,${(top+bot)/2}) rotate(-90)`)
    .attr("text-anchor","middle").attr("font-size",19).text(yLabel);

  // panel label
  g.append("text").attr("transform",`translate(740,${labelBaseline[i]}) scale(${stretch},1)`)
    .attr("text-anchor","middle").attr("font-size",25).text(panelLabels[i]);
});

// x label
svg.append("text").attr("transform",`translate(${(plotLeft+plotRight)/2},1610) scale(${stretch},1)`)
  .attr("text-anchor","middle").attr("font-size",16).text(xLabel);

// legend
const lgX = 272.5, lgY = 7.5, lgW = 316.5, lgH = 108.5;
const leg = svg.append("g");
leg.append("rect").attr("x",lgX).attr("y",lgY).attr("width",lgW).attr("height",lgH)
  .attr("fill","#fff").attr("stroke","#000").attr("stroke-width",1);
const rowY = [21.7, 49.0, 75.8, 101.7];
seriesNames.forEach((name,k) => {
  leg.append("line").attr("x1",279).attr("x2",317).attr("y1",rowY[k]).attr("y2",rowY[k])
    .attr("stroke",styles[k].color).attr("stroke-width",styles[k].width).attr("stroke-dasharray",styles[k].dash);
  leg.append("text").attr("transform",`translate(321.7,${rowY[k]+5.7}) scale(${stretch},1)`)
    .attr("font-size",16).text(name);
});
</script></body></html>
